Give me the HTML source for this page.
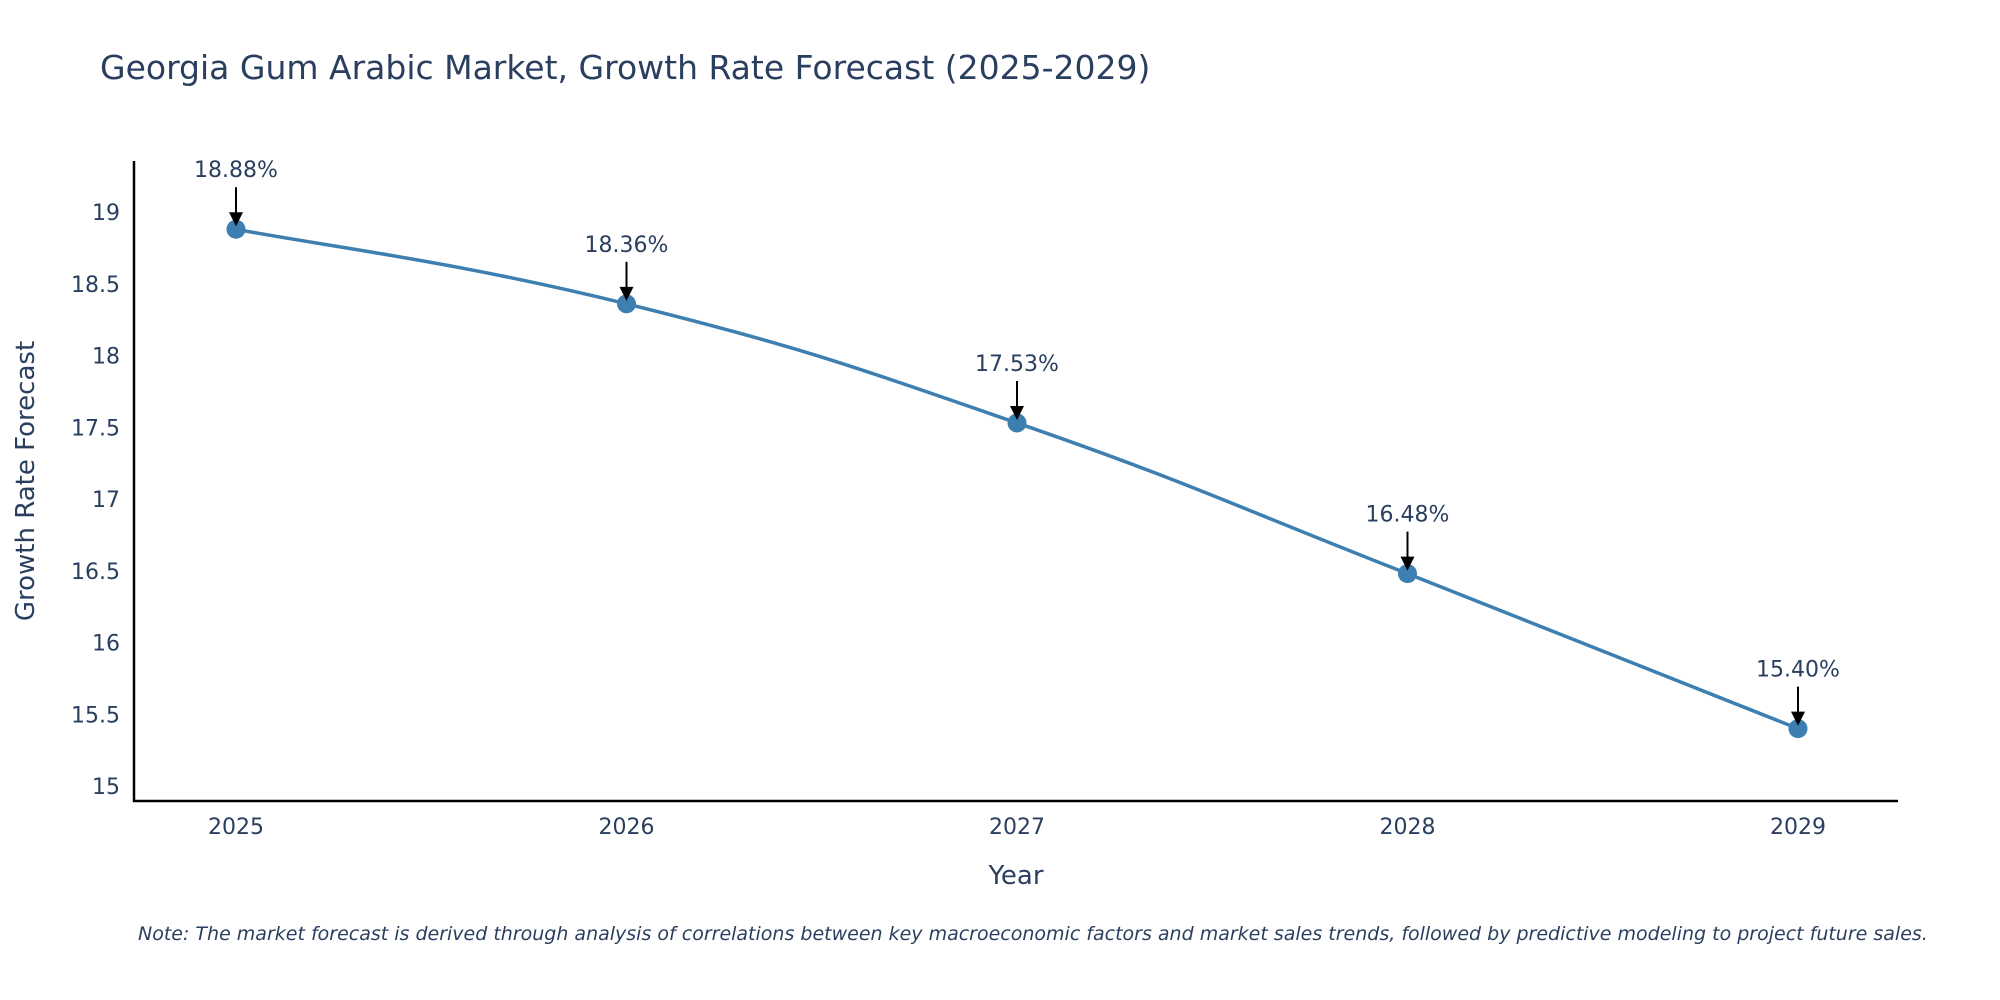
<!DOCTYPE html>
<html><head><meta charset="utf-8"><style>
html,body{margin:0;padding:0;background:#fff;}
svg{display:block;font-family:"DejaVu Sans","Liberation Sans",sans-serif;}
</style></head><body>
<svg id="chart" width="2000" height="1000" viewBox="0 0 2000 1000" xmlns="http://www.w3.org/2000/svg">
<text x="100" y="79" font-size="33" fill="#2a3f5f">Georgia Gum Arabic Market, Growth Rate Forecast (2025-2029)</text>
<g id="yticks"></g>
<g id="xticks"></g>
<line x1="134" y1="161" x2="134" y2="802" stroke="#000" stroke-width="2.5"/>
<line x1="133" y1="801" x2="1898" y2="801" stroke="#000" stroke-width="2.5"/>
<text transform="translate(34,481) rotate(-90)" text-anchor="middle" font-size="26" fill="#2a3f5f">Growth Rate Forecast</text>
<text x="1016" y="884" text-anchor="middle" font-size="26" fill="#2a3f5f">Year</text>
<g id="series"></g>
<g id="annots"></g>
<text x="138" y="940" font-size="19" font-style="italic" fill="#2a3f5f">Note: The market forecast is derived through analysis of correlations between key macroeconomic factors and market sales trends, followed by predictive modeling to project future sales.</text>
</svg>
<script>
const years = [2025, 2026, 2027, 2028, 2029];
const values = [18.88, 18.36, 17.53, 16.48, 15.40];
const labels = ["18.88%", "18.36%", "17.53%", "16.48%", "15.40%"];
const yTickValues = [15, 15.5, 16, 16.5, 17, 17.5, 18, 18.5, 19];
const yTickLabels = ["15", "15.5", "16", "16.5", "17", "17.5", "18", "18.5", "19"];

const NS = "http://www.w3.org/2000/svg";
function xScale(v){ return 236 + (v - 2025) * (1798 - 236) / 4; }
function yScale(v){ return 786 - (v - 15) * (786 - 212) / 4; }
function mk(tag, attrs, parent){ const e=document.createElementNS(NS,tag); for(const k in attrs) e.setAttribute(k,attrs[k]); parent.appendChild(e); return e; }

const yt = document.getElementById('yticks');
yTickValues.forEach((v,i)=>{
  const t = mk('text',{x:120,y:yScale(v)+8,'text-anchor':'end','font-size':22,fill:'#2a3f5f'},yt);
  
  
  t.textContent = yTickLabels[i];
});
const xt = document.getElementById('xticks');
years.forEach(y=>{
  const t = mk('text',{x:xScale(y),y:834,'text-anchor':'middle','font-size':22,fill:'#2a3f5f'},xt);
  
  
  t.textContent = String(y);
});

const pts = years.map((y,i)=>[xScale(y), yScale(values[i])]);
let d = `M${pts[0][0]},${pts[0][1]}`;
for(let i=0;i<pts.length-1;i++){
  const p0=pts[Math.max(0,i-1)], p1=pts[i], p2=pts[i+1], p3=pts[Math.min(pts.length-1,i+2)];
  const s=0.22;
  const c1=[p1[0]+(p2[0]-p0[0])*s, p1[1]+(p2[1]-p0[1])*s];
  const c2=[p2[0]-(p3[0]-p1[0])*s, p2[1]-(p3[1]-p1[1])*s];
  d += ` C${c1[0]},${c1[1]} ${c2[0]},${c2[1]} ${p2[0]},${p2[1]}`;
}
const sg = document.getElementById('series');
const line = mk('path',{d:d,fill:'none',stroke:'#3d7fb0','stroke-width':3.5},sg);


pts.forEach(p=>{
  const c = mk('circle',{cx:p[0],cy:p[1],r:9.5,fill:'#3d7fb0'},sg);
  
  
});

const ag = document.getElementById('annots');
pts.forEach((p,i)=>{
  const g = mk('g',{},ag);
  
  
  mk('line',{x1:p[0],y1:p[1]-42,x2:p[0],y2:p[1]-14,stroke:'#000','stroke-width':2},g);
  mk('polygon',{points:`${p[0]-7},${p[1]-17} ${p[0]+7},${p[1]-17} ${p[0]},${p[1]-3}`,fill:'#000'},g);
  const t = mk('text',{x:p[0],y:p[1]-52,'text-anchor':'middle','font-size':22,fill:'#2a3f5f'},g);
  t.textContent = labels[i];
});
</script>
</body></html>
